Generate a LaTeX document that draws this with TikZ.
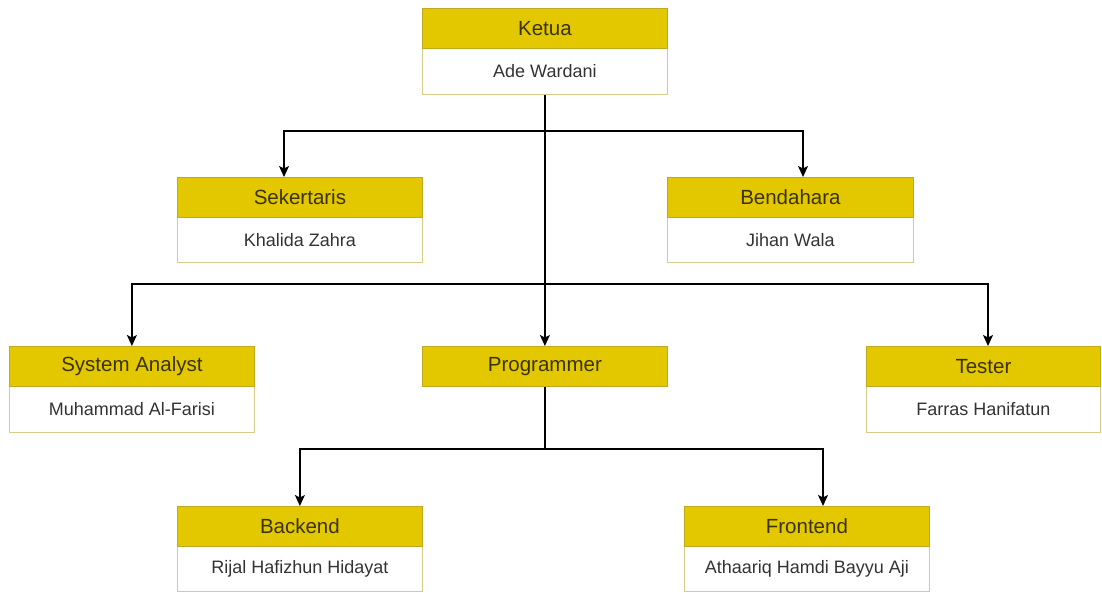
\documentclass[tikz,border=0pt]{standalone}
\usepackage{fontspec}
\setmainfont{Liberation Sans}
\usetikzlibrary{arrows.meta,calc}
\definecolor{hdr}{HTML}{E3C800}
\definecolor{hdrline}{HTML}{C2A820}
\definecolor{bodyline}{HTML}{D6CB8A}
\definecolor{txt}{HTML}{333333}
\definecolor{htxt}{HTML}{3A3300}
\begin{document}
\begin{tikzpicture}[x=1pt,y=-1pt,
  hd/.style={draw=hdrline, fill=hdr, line width=0.8pt, minimum width=245pt, minimum height=40pt, inner sep=0pt, font=\fontsize{20.5}{24}\selectfont, text=htxt, anchor=north west},
  bd/.style={draw=bodyline, fill=white, line width=0.8pt, minimum width=245pt, minimum height=46pt, inner sep=0pt, font=\fontsize{18}{21}\selectfont, text=txt, anchor=north west},
  conn/.style={line width=1.4pt, black},
  arr/.style={conn, -{Stealth[length=11pt,width=10pt,inset=2.5pt]}}]
\path[use as bounding box, fill=white] (0,0) rectangle (1102,593);

% Ketua
\node[bd] (kb) at (422,48) {Ade Wardani};
\node[hd] (kh) at (422,8) {Ketua};
% Sekertaris
\node[bd, minimum height=45pt] (sb) at (177,217) {Khalida Zahra};
\node[hd] (sh) at (177,177) {Sekertaris};
% Bendahara
\node[bd, minimum width=246pt, minimum height=45pt] (bb) at (667,217) {Jihan Wala};
\node[hd, minimum width=246pt] (bh) at (667,177) {Bendahara};
% System Analyst
\node[bd] (ab) at (9,386) {Muhammad Al-Farisi};
\node[hd] (ah) at (9,346) {System Analyst};
% Programmer
\node[hd] (ph) at (422,346) {Programmer};
% Tester
\node[bd, minimum width=234pt] (tb) at (866,386) {Farras Hanifatun};
\node[hd, minimum width=234pt] (th) at (866,346) {Tester};
% Backend
\node[bd, minimum height=45pt] (beb) at (177,546) {Rijal Hafizhun Hidayat};
\node[hd] (beh) at (177,506) {Backend};
% Frontend
\node[bd, minimum height=45pt] (fb) at (684,546) {Athaariq Hamdi Bayyu Aji};
\node[hd] (fh) at (684,506) {Frontend};

% junctions and arrow entry points
\coordinate (j1) at (kb.south |- 0,131);
\coordinate (j2) at (kb.south |- 0,284);
\coordinate (j3) at (ph.south |- 0,449);
\coordinate (sin) at (284,177);
\coordinate (bin) at (803,177);
\coordinate (tin) at (988,346);
\coordinate (fin) at (823,506);

\draw[arr] (kb.south) -- (ph.north);
\draw[arr] (j1) -| (sin);
\draw[arr] (j1) -| (bin);
\draw[arr] (j2) -| (ah.north);
\draw[arr] (j2) -| (tin);
\draw[arr] (ph.south) -- (j3) -| (beh.north);
\draw[arr] (j3) -| (fin);
\end{tikzpicture}
\end{document}
